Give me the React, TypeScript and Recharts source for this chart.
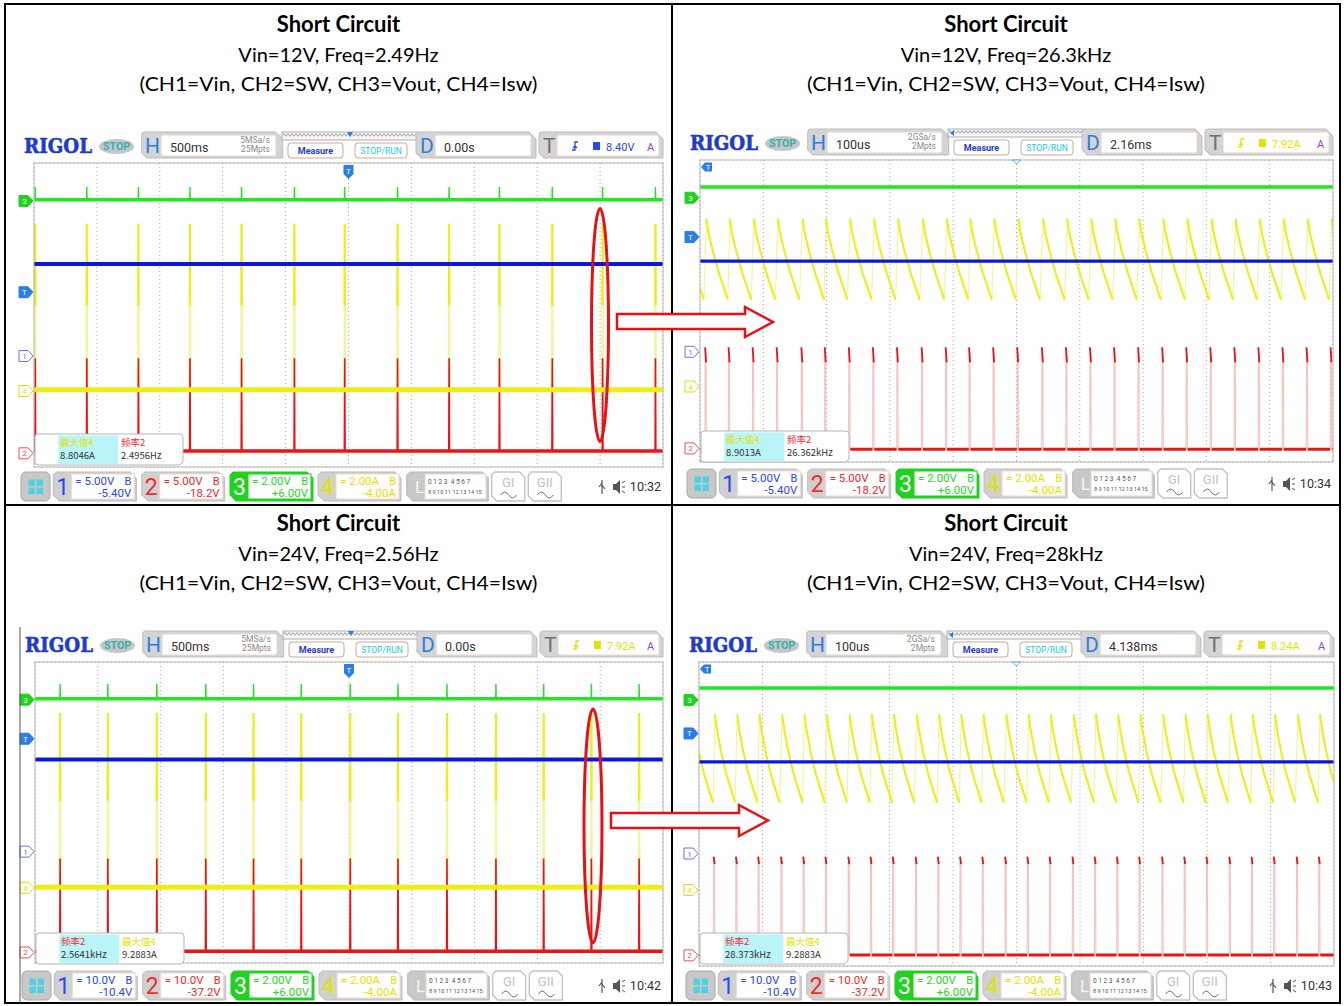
import React from 'react';
import { LineChart, Line, XAxis, YAxis, CartesianGrid, ReferenceLine } from 'recharts';

const BLUE = '#0a18de';
const RED = '#f01212';
const PINK = '#f8c2c2';
const GREEN = '#22e622';
const YELLOW = '#eeee12';
const PALE_YELLOW = '#f4f49a';

// ---- values ----
// slow sweep (500ms/div): spike instants, seconds
const slowSpikes12 = [-2.49, -2.08, -1.67, -1.26, -0.85, -0.43, -0.03, 0.39, 0.8, 1.2, 1.62, 2.02, 2.44];
const slowSpikes24 = [-2.3, -1.92, -1.53, -1.14, -0.76, -0.38, 0.01, 0.39, 0.78, 1.17, 1.55, 1.93, 2.31];
// fast sweep (100us/div): switching instants, microseconds
const fastPeaks12 = [-528, -490, -453, -415, -377, -338, -301, -263, -225, -187, -148, -110, -73, -35, 3, 42, 80, 118, 156, 194, 232, 270, 308, 346, 384, 422, 460, 498];
const fastPeaks24 = [-510, -475, -440, -405, -369, -334, -299, -263, -228, -193, -157, -122, -87, -52, -16, 19, 54, 90, 125, 160, 195, 231, 266, 301, 337, 372, 407, 443, 478];

// one tick per division
const slowTicks = [-2.5, -2, -1.5, -1, -0.5, 0, 0.5, 1, 1.5, 2, 2.5];
const fastTicks = [-500, -400, -300, -200, -100, 0, 100, 200, 300, 400, 500];
const divTicks = [-4, -3, -2, -1, 0, 1, 2, 3, 4];

// channel settings CH1..CH4: units/div and offset
const scale12 = [5, 5, 2, 2];
const offset12 = [-5.4, -18.2, 6, -4];
const scale24 = [10, 10, 2, 2];
const offset24 = [-10.4, -37.2, 6, -4];
const scaleText12 = ['5.00V', '5.00V', '2.00V', '2.00A'];
const offsetText12 = ['-5.40V', '-18.2V', '+6.00V', '-4.00A'];
const scaleText24 = ['10.0V', '10.0V', '2.00V', '2.00A'];
const offsetText24 = ['-10.4V', '-37.2V', '+6.00V', '-4.00A'];

// slow levels: [Vin, SW low, SW high, Vout, Vout spike, Isw low, Isw peak, Isw where the bright part of the spike starts]
const slowLevels12 = [12.1, 0.3, 12.5, 0.06, 0.74, 0.06, 8.8, 4.5];
const slowLevels24 = [24.5, 0.3, 25.0, 0.05, 0.84, 0.02, 9.29, 4.6];
// fast levels: [Vin, SW low, SW high, Vout]
const fastLevels12 = [12.0, -0.1, 12.2, 0.57];
const fastLevels24 = [24.1, 0.1, 24.8, 0.63];
// inductor current after each switching pulse: time after peak (us), current (A)
const sawOffsets12 = [0, 3, 10, 20, 34];
const sawCurrent12 = [8.9, 8.2, 7.2, 6.0, 4.6];
const sawOffsets24 = [0, 3, 9, 18, 32];
const sawCurrent24 = [9.26, 8.5, 7.4, 6.1, 4.6];

const titleMain = 'Short Circuit';
const titleConds = ['Vin=12V, Freq=2.49Hz', 'Vin=12V, Freq=26.3kHz', 'Vin=24V, Freq=2.56Hz', 'Vin=24V, Freq=28kHz'];
const titleChannels = '(CH1=Vin, CH2=SW, CH3=Vout, CH4=Isw)';

type Pt = { t: number; v: number | null };
type Trace = { axis: string; color: string; width: number; data: Pt[] };

function slowTraces(spikes: number[], lv: number[], ticks: number[]): Trace[] {
  const [vin, swLo, swHi, vo, voHi, iLo, iHi, iMid] = lv;
  const xMin = ticks[0];
  const xMax = ticks[ticks.length - 1];
  const flat = (v: number) => [{ t: xMin, v }, { t: xMax, v }];
  const spiky = (lo: number, hi: number, half: number) => {
    const pts: Pt[] = [{ t: xMin, v: lo }];
    spikes.forEach((s) => pts.push({ t: s - half, v: lo }, { t: s, v: hi }, { t: s + half, v: lo }));
    pts.push({ t: xMax, v: lo });
    return pts;
  };
  const upper: Pt[] = [];
  spikes.forEach((s) => upper.push({ t: s - 0.0015, v: iMid }, { t: s, v: iHi }, { t: s + 0.0015, v: iMid }, { t: s + 0.002, v: null }));
  return [
    { axis: 'c3', color: PALE_YELLOW, width: 2, data: spiky(iLo, iHi, 0.003) },
    { axis: 'c3', color: YELLOW, width: 2, data: upper },
    { axis: 'c1', color: RED, width: 1.6, data: spiky(swLo, swHi, 0.003) },
    { axis: 'c1', color: RED, width: 3.5, data: flat(swLo) },
    { axis: 'c3', color: YELLOW, width: 5, data: flat(iLo) },
    { axis: 'c0', color: BLUE, width: 4, data: flat(vin) },
    { axis: 'c2', color: GREEN, width: 1.4, data: spiky(vo, voHi, 0.002) },
    { axis: 'c2', color: GREEN, width: 3.5, data: flat(vo) },
  ];
}

function fastTraces(peaks: number[], lv: number[], offs: number[], cur: number[], ticks: number[]): Trace[] {
  const [vin, swLo, swHi, vo] = lv;
  const xMin = ticks[0];
  const xMax = ticks[ticks.length - 1];
  const flat = (v: number) => [{ t: xMin, v }, { t: xMax, v }];
  const swPale: Pt[] = [];
  const swTips: Pt[] = [];
  const swBase: Pt[] = [];
  const sawPale: Pt[] = [];
  const sawBright: Pt[] = [];
  peaks.forEach((p, i) => {
    const next = i + 1 < peaks.length ? peaks[i + 1] : xMax + 40;
    swPale.push({ t: p - 2.2, v: swLo }, { t: p - 1.9, v: swHi + 1 }, { t: p - 0.4, v: swHi - 0.6 }, { t: p, v: swLo });
    swTips.push({ t: p - 1.9, v: swHi + 1.2 }, { t: p - 1.1, v: swHi + 0.2 }, { t: p - 0.4, v: swHi - 0.8 }, { t: p - 0.3, v: null });
    swBase.push({ t: p + 0.3, v: swLo }, { t: next - 2.4, v: swLo }, { t: next - 2.3, v: null });
    offs.forEach((o, k) => {
      sawPale.push({ t: p + o, v: cur[k] });
      sawBright.push({ t: p + o, v: cur[k] });
    });
    sawBright.push({ t: p + offs[offs.length - 1] + 0.3, v: null });
  });
  return [
    { axis: 'c1', color: PINK, width: 1.1, data: swPale },
    { axis: 'c1', color: RED, width: 1.8, data: swTips },
    { axis: 'c1', color: RED, width: 3, data: swBase },
    { axis: 'c3', color: PALE_YELLOW, width: 1.2, data: sawPale },
    { axis: 'c3', color: YELLOW, width: 2, data: sawBright },
    { axis: 'c0', color: BLUE, width: 3.2, data: flat(vin) },
    { axis: 'c2', color: GREEN, width: 3.5, data: flat(vo) },
  ];
}

type Meas = [string, string, string];
type Panel = {
  id: string; gx: number; gy: number; w: number; h: number; fast: boolean;
  ticks: number[]; scale: number[]; offset: number[]; scaleText: string[]; offsetText: string[];
  hText: string; sr1: string; sr2: string; dText: string; trigText: string; trigColor: string;
  trigCh: number; trigLevel: number; clock: string; meas: Meas[]; traces: Trace[];
};

const panels: Panel[] = [
  {
    id: 'p1', gx: 34, gy: 163, w: 629, h: 304, fast: false, ticks: slowTicks,
    scale: scale12, offset: offset12, scaleText: scaleText12, offsetText: offsetText12,
    hText: '500ms', sr1: '5MSa/s', sr2: '25Mpts', dText: '0.00s', trigText: '8.40V', trigColor: '#2a48f0',
    trigCh: 0, trigLevel: 8.4, clock: '10:32',
    meas: [['最大值4', '#e4e400', '8.8046A'], ['频率2', '#f03030', '2.4956Hz']],
    traces: slowTraces(slowSpikes12, slowLevels12, slowTicks),
  },
  {
    id: 'p2', gx: 700, gy: 160, w: 633, h: 302, fast: true, ticks: fastTicks,
    scale: scale12, offset: offset12, scaleText: scaleText12, offsetText: offsetText12,
    hText: '100us', sr1: '2GSa/s', sr2: '2Mpts', dText: '2.16ms', trigText: '7.92A', trigColor: '#e4e400',
    trigCh: 3, trigLevel: 7.92, clock: '10:34',
    meas: [['最大值4', '#e4e400', '8.9013A'], ['频率2', '#f03030', '26.362kHz']],
    traces: fastTraces(fastPeaks12, fastLevels12, sawOffsets12, sawCurrent12, fastTicks),
  },
  {
    id: 'p3', gx: 35, gy: 662, w: 628, h: 301, fast: false, ticks: slowTicks,
    scale: scale24, offset: offset24, scaleText: scaleText24, offsetText: offsetText24,
    hText: '500ms', sr1: '5MSa/s', sr2: '25Mpts', dText: '0.00s', trigText: '7.92A', trigColor: '#e4e400',
    trigCh: 3, trigLevel: 7.92, clock: '10:42',
    meas: [['频率2', '#f03030', '2.5641kHz'], ['最大值4', '#e4e400', '9.2883A']],
    traces: slowTraces(slowSpikes24, slowLevels24, slowTicks),
  },
  {
    id: 'p4', gx: 699, gy: 662, w: 635, h: 304, fast: true, ticks: fastTicks,
    scale: scale24, offset: offset24, scaleText: scaleText24, offsetText: offsetText24,
    hText: '100us', sr1: '2GSa/s', sr2: '2Mpts', dText: '4.138ms', trigText: '8.24A', trigColor: '#e4e400',
    trigCh: 3, trigLevel: 8.24, clock: '10:43',
    meas: [['频率2', '#f03030', '28.373kHz'], ['最大值4', '#e4e400', '9.2883A']],
    traces: fastTraces(fastPeaks24, fastLevels24, sawOffsets24, sawCurrent24, fastTicks),
  },
];

function ScopeChart({ p }: { p: Panel }) {
  const { w, h, ticks, scale, offset } = p;
  const xMin = ticks[0];
  const xMax = ticks[ticks.length - 1];
  const xDiv = ticks[1] - ticks[0];
  const xMid = (xMin + xMax) / 2;
  const minorX = Array.from({ length: 51 }, (_, i) => xMin + (i * xDiv) / 5);
  const minorY = Array.from({ length: 41 }, (_, i) => -4 + i * 0.2);
  const tl = 0.1 * xDiv;
  const tickStroke = '#8c8c8c';
  return (
    <div style={{ position: 'absolute', left: p.gx - 2, top: p.gy - 2 }}>
      <LineChart width={w + 4} height={h + 4} margin={{ top: 2, right: 2, bottom: 2, left: 2 }}>
        <XAxis type="number" dataKey="t" domain={[xMin, xMax]} ticks={ticks} hide allowDataOverflow />
        <YAxis yAxisId="div" type="number" domain={[-4, 4]} ticks={divTicks} hide />
        {scale.map((s, i) => (
          <YAxis key={i} yAxisId={`c${i}`} type="number" domain={[-4 * s - offset[i], 4 * s - offset[i]]} hide allowDataOverflow />
        ))}
        <CartesianGrid yAxisId="div" stroke="#a4a4a4" strokeDasharray="1 3" />
        <ReferenceLine yAxisId="div" y={0} stroke="#8a8a8a" strokeDasharray="2 2" />
        <ReferenceLine yAxisId="div" x={xMid} stroke="#8a8a8a" strokeDasharray="2 2" />
        {minorX.map((x, i) => (
          <React.Fragment key={`mx${i}`}>
            <ReferenceLine yAxisId="div" segment={[{ x, y: 4 }, { x, y: 3.88 }]} stroke={tickStroke} />
            <ReferenceLine yAxisId="div" segment={[{ x, y: -4 }, { x, y: -3.88 }]} stroke={tickStroke} />
            <ReferenceLine yAxisId="div" segment={[{ x, y: 0.08 }, { x, y: -0.08 }]} stroke={tickStroke} />
          </React.Fragment>
        ))}
        {minorY.map((y, i) => (
          <React.Fragment key={`my${i}`}>
            <ReferenceLine yAxisId="div" segment={[{ x: xMin, y }, { x: xMin + tl, y }]} stroke={tickStroke} />
            <ReferenceLine yAxisId="div" segment={[{ x: xMax - tl, y }, { x: xMax, y }]} stroke={tickStroke} />
            <ReferenceLine yAxisId="div" segment={[{ x: xMid - tl * 0.8, y }, { x: xMid + tl * 0.8, y }]} stroke={tickStroke} />
          </React.Fragment>
        ))}
        {p.traces.map((tr, i) => (
          <Line
            key={i}
            data={tr.data}
            dataKey="v"
            yAxisId={tr.axis}
            type="linear"
            stroke={tr.color}
            strokeWidth={tr.width}
            dot={false}
            activeDot={false}
            connectNulls={false}
            isAnimationActive={false}
          />
        ))}
      </LineChart>
    </div>
  );
}

function Tab({ x, w, y = -31, hh = 26 }: { x: number; w: number; y?: number; hh?: number }) {
  return (
    <path
      d={`M${x},${y + 3} Q${x},${y} ${x + 3},${y} H${x + w - 7} L${x + w},${y + 7} V${y + hh} H${x + 5} L${x},${y + hh - 5} Z`}
      fill="#d4d4d4"
      stroke="#bdbdbd"
    />
  );
}

const FOOT_COLORS = ['#2a48f0', '#f02a2a', '#2ad62a', '#e2e200'];

function ChBox({ x, i, p }: { x: number; i: number; p: Panel }) {
  const y = 309;
  const hh = 29;
  const w = 83;
  const sel = i === 2;
  const c = FOOT_COLORS[i];
  return (
    <g>
      <path
        d={`M${x + 3},${y} H${x + w - 6} L${x + w},${y + 6} V${y + hh} H${x + 6} L${x},${y + hh - 6} V${y + 3} Z`}
        fill={sel ? '#1ed21e' : '#d0d0d0'}
        stroke={sel ? '#1ed21e' : '#bdbdbd'}
      />
      <rect x={x + 18} y={y + 2} width={w - 20} height={hh - 4} fill="#fff" stroke={sel ? '#1ed21e' : '#ecd8ca'} />
      <text x={x + 9.5} y={y + 23} fontSize={23} fill={sel ? '#fff' : c} textAnchor="middle">{i + 1}</text>
      <text x={x + 22} y={y + 13} fontSize={11.5} fill={c}>{'= ' + p.scaleText[i]}</text>
      <text x={x + w - 5} y={y + 13} fontSize={11} fill={c} textAnchor="end">B</text>
      <text x={x + w - 5} y={y + 25} fontSize={11.5} fill={c} textAnchor="end">{p.offsetText[i]}</text>
    </g>
  );
}

function Marker({ y, color, label, filled }: { y: number; color: string; label: string; filled: boolean }) {
  return (
    <g>
      <path
        d={`M-15,${y - 5.5} H-6 L-1,${y} L-6,${y + 5.5} H-15 Z`}
        fill={filled ? color : '#fff'}
        stroke={color}
        strokeWidth={1}
      />
      <text x={-9.5} y={y + 3} fontSize={8} textAnchor="middle" fill={filled ? '#fff' : color}>{label}</text>
    </g>
  );
}

function Chrome({ p }: { p: Panel }) {
  const { w, h, scale, offset } = p;
  const chY = (ch: number, v: number) => h / 2 - ((v + offset[ch]) / scale[ch]) * (h / 8);
  const zz = `zz-${p.id}`;
  const tX = 505;
  const stripX = 248;
  const stripW = 136;
  return (
    <svg
      width={w + 30}
      height={h + 80}
      style={{ position: 'absolute', left: p.gx - 20, top: p.gy - 35, overflow: 'visible' }}
    >
      <defs>
        <pattern id={zz} width={4} height={8} patternUnits="userSpaceOnUse">
          <path d="M0,5.5 L2,2.5 L4,5.5" stroke="#8a8a8a" fill="none" strokeWidth={0.8} />
        </pattern>
      </defs>
      <g transform="translate(20,35)" fontFamily="Roboto, 'Liberation Sans', sans-serif">
        <rect x={0} y={0} width={w} height={h} fill="none" stroke="#b8b8b8" />

        {/* header */}
        <text x={-10} y={-10} fontFamily="'DejaVu Serif', 'Liberation Serif', serif" fontWeight="bold" fontSize={21} fill="#1f3cc8" stroke="#1f3cc8" strokeWidth={0.6} textLength={68} lengthAdjust="spacingAndGlyphs">RIGOL</text>
        <ellipse cx={82.5} cy={-16.5} rx={17.5} ry={7.5} fill="#c6c6c6" />
        <text x={82.5} y={-12.6} textAnchor="middle" fontSize={10.5} fontWeight="bold" fill="#34b2b2">STOP</text>

        <Tab x={107.7} w={141} />
        <text x={111} y={-10} fontSize={21} fill="#2c7fe0">H</text>
        <rect x={127} y={-28} width={115} height={21} rx={2} fill="#fff" stroke="#ecd6c6" />
        <text x={136} y={-11.5} fontSize={12.5} fill="#333">{p.hText}</text>
        <text x={236} y={-20} fontSize={8.5} fill="#8a8a8a" textAnchor="end">{p.sr1}</text>
        <text x={236} y={-11} fontSize={8.5} fill="#8a8a8a" textAnchor="end">{p.sr2}</text>

        <rect x={stripX} y={-31} width={stripW} height={8} fill="#f6f6f6" stroke="#9c9c9c" strokeWidth={0.8} />
        <rect x={stripX + 1} y={-30} width={stripW - 2} height={6} fill={`url(#${zz})`} />
        {p.fast ? (
          <path d={`M${stripX + 2},-27 L${stripX + 6},-30 V-24 Z`} fill="#2c7fe0" />
        ) : (
          <path d={`M${stripX + stripW / 2 - 3},-31 H${stripX + stripW / 2 + 3} L${stripX + stripW / 2},-26 Z`} fill="#2c7fe0" />
        )}
        <rect x={254} y={-20} width={55} height={15} rx={3} fill="#fff" stroke="#cfa892" />
        <text x={281.5} y={-9} fontSize={9} fontWeight="bold" fill="#1f3cc8" textAnchor="middle">Measure</text>
        <rect x={321} y={-20} width={52} height={15} rx={3} fill="#fff" stroke="#cfa892" />
        <text x={347} y={-9} fontSize={8.5} fill="#22c8e8" textAnchor="middle">STOP/RUN</text>

        <Tab x={382} w={120} />
        <text x={386} y={-10} fontSize={21} fill="#2c7fe0">D</text>
        <rect x={401} y={-28} width={96} height={21} rx={2} fill="#fff" stroke="#ecd6c6" />
        <text x={410} y={-11.5} fontSize={12.5} fill="#333">{p.dText}</text>

        <Tab x={tX} w={w - tX} />
        <text x={tX + 4} y={-10} fontSize={21} fill="#707070">T</text>
        <rect x={tX + 18} y={-28} width={w - tX - 22} height={21} rx={2} fill="#fff" stroke="#ecd6c6" />
        <path d={`M${tX + 33},-13 h3 v-8 h3 M${tX + 36},-17 l-2,2 M${tX + 36},-17 l2,2`} stroke={p.trigColor} fill="none" strokeWidth={1.3} />
        <rect x={tX + 54} y={-21} width={7} height={8} fill={p.trigColor} />
        <text x={tX + 67} y={-12.5} fontSize={11} fill={p.trigColor}>{p.trigText}</text>
        <text x={w - 16} y={-12.5} fontSize={11} fill="#9a3ae0">A</text>

        {/* markers */}
        <Marker y={chY(2, 0)} color="#1ed21e" label="3" filled />
        <Marker y={chY(p.trigCh, p.trigLevel)} color="#2a7ee8" label="T" filled />
        <Marker y={chY(0, 0)} color="#6a70f0" label="1" filled={false} />
        <Marker y={chY(3, 0)} color="#e0e000" label="4" filled={false} />
        <Marker y={chY(1, 0)} color="#f05050" label="2" filled={false} />
        {p.fast ? (
          <g>
            <path d="M1,7 L5,2.5 H12 V11.5 H5 Z" fill="#2a7ee8" />
            <text x={8} y={10} fontSize={7.5} fill="#fff" textAnchor="middle">T</text>
            <path d={`M${w / 2 - 4},0 H${w / 2 + 4} L${w / 2},4 Z`} fill="#fff" stroke="#4a90e0" strokeWidth={0.8} />
          </g>
        ) : (
          <g>
            <path d={`M${w / 2 - 5},2 H${w / 2 + 5} V11 L${w / 2},16 L${w / 2 - 5},11 Z`} fill="#2a7ee8" />
            <text x={w / 2} y={11} fontSize={8} fill="#fff" textAnchor="middle">T</text>
          </g>
        )}

        {/* measurement box */}
        <path d="M4,271 H146 Q149,271 149,274 V299 L146,302 H4 Q1,302 1,299 V274 Q1,271 4,271 Z" fill="#fff" stroke="#b4b4b4" />
        <rect x={24.3} y={272.5} width={60} height={28.5} fill="#b8f4f8" />
        {p.meas.map((m, k) => (
          <g key={k} fontFamily="'Noto Sans CJK SC', Roboto, sans-serif">
            <text x={26 + k * 61} y={283} fontSize={9.5} fill={m[1]}>{m[0]}</text>
            <text x={26 + k * 61} y={296} fontSize={9.5} fill="#333">{m[2]}</text>
          </g>
        ))}

        {/* footer */}
        <rect x={-13} y={309} width={29} height={29} rx={5} fill="#c8c8c8" stroke="#a8a8a8" />
        {[[-5.5, 316.5], [2.5, 316.5], [-5.5, 324.5], [2.5, 324.5]].map(([x, y], k) => (
          <rect key={k} x={x} y={y} width={6.5} height={6.5} fill="#52d0e4" />
        ))}
        {[19.3, 107.7, 196, 284].map((x, i) => (
          <ChBox key={i} x={x} i={i} p={p} />
        ))}
        <path d="M375.7,309 H448.3 L454.3,315 V338 H378.7 L372.7,332 V312 Z" fill="#c8c8c8" stroke="#b8b8b8" />
        <text x={381} y={330} fontSize={17} fill="#f4f4f4">L</text>
        <rect x={391} y={311} width={61} height={25} fill="#fff" stroke="#ecd8ca" />
        <text x={394} y={321} fontSize={6.5} fill="#555">0 1 2 3 &#160;4 5 6 7</text>
        <text x={394} y={331} fontSize={5.6} fill="#555">8 9 10 11 12 13 14 15</text>
        {[457.7, 494.3].map((x, k) => (
          <g key={k}>
            <path d={`M${x + 3},309 H${x + 28} L${x + 33},314 V338 H${x + 5} L${x},333 V312 Z`} fill="#fff" stroke="#c4c4c4" strokeWidth={1.4} />
            <text x={x + 16.5} y={324} fontSize={13} fill="#c2c2c2" textAnchor="middle">{k === 0 ? 'GI' : 'GII'}</text>
            <path d={`M${x + 9},332 q4,-6 8,0 t8,0`} stroke="#707070" fill="none" strokeWidth={1} />
          </g>
        ))}
        <path d={`M${w - 61},317 V331 M${w - 61},320 l-3,4 M${w - 61},322 l3,4`} stroke="#555" fill="none" strokeWidth={1.2} />
        <path d={`M${w - 50},321 h3 l4,-4 v14 l-4,-4 h-3 Z`} fill="#555" />
        <path d={`M${w - 41},320 l3,-2 M${w - 41},324 h3 M${w - 41},328 l3,2`} stroke="#555" strokeWidth={1} />
        <text x={w - 2} y={328} fontSize={12.5} fill="#333" textAnchor="end">{p.clock}</text>
      </g>
    </svg>
  );
}

function Overlay() {
  const centers = [338.5, 1006];
  const rows = [0, 499];
  return (
    <svg width={1344} height={1006} style={{ position: 'absolute', left: 0, top: 0 }}>
      <rect x={5} y={4} width={1335} height={999} fill="none" stroke="#000" strokeWidth={2} />
      <line x1={672} y1={4} x2={672} y2={1003} stroke="#000" strokeWidth={2} />
      <line x1={5} y1={505} x2={1340} y2={505} stroke="#000" strokeWidth={2} />
      <line x1={20} y1={627} x2={20} y2={1003} stroke="#555" strokeWidth={1} />
      {rows.map((dy, r) =>
        centers.map((cx, c) => (
          <g key={`${r}-${c}`} fontFamily="Lato, 'Open Sans', sans-serif" textAnchor="middle" fill="#000">
            <text x={cx} y={32 + dy} fontSize={22} fontWeight="bold">{titleMain}</text>
            <text x={cx} y={62 + dy} fontSize={20}>{titleConds[r * 2 + c]}</text>
            <text x={cx} y={91 + dy} fontSize={20} textLength={398} lengthAdjust="spacingAndGlyphs">{titleChannels}</text>
          </g>
        )),
      )}
      <ellipse cx={600} cy={325} rx={8.5} ry={116.5} fill="none" stroke="#e81010" strokeWidth={3} />
      <ellipse cx={593} cy={826} rx={9} ry={117} fill="none" stroke="#e81010" strokeWidth={3} />
      <polygon points="617,314 745,314 745,307 773,322 745,337 745,329 617,329" fill="#fff" stroke="#e81010" strokeWidth={2.5} />
      <polygon points="611,813 739,813 739,805 768,820.5 739,836 739,828 611,828" fill="#fff" stroke="#e81010" strokeWidth={2.5} />
    </svg>
  );
}

export default function App() {
  return (
    <div style={{ position: 'absolute', left: 0, top: 0, width: 1344, height: 1006, background: '#fff', overflow: 'hidden' }}>
      {panels.map((p) => (
        <ScopeChart key={p.id} p={p} />
      ))}
      {panels.map((p) => (
        <Chrome key={p.id} p={p} />
      ))}
      <Overlay />
    </div>
  );
}
